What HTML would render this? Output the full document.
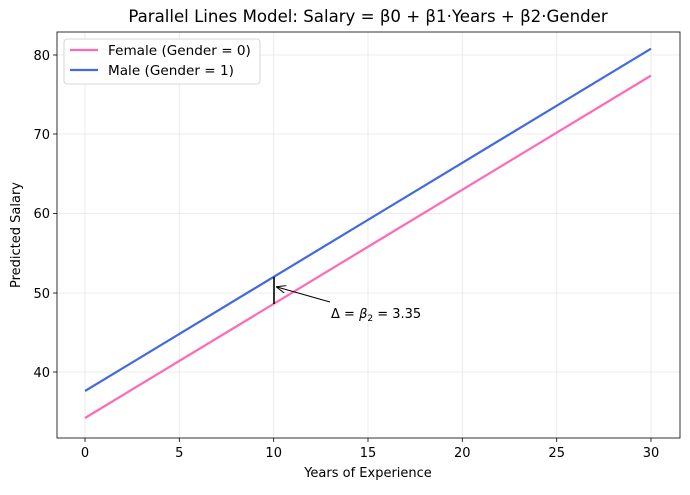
<!DOCTYPE html>
<html><head><meta charset="utf-8"><style>body{margin:0;background:#fff}</style></head><body>
<svg width="690" height="490" xmlns="http://www.w3.org/2000/svg" font-family="DejaVu Sans, Liberation Sans, sans-serif">
<defs><marker id="a" markerWidth="10" markerHeight="8" refX="9" refY="4" orient="auto" markerUnits="userSpaceOnUse"><path d="M0,0 L10,4 L0,8" fill="none" stroke="#000" stroke-width="1"/></marker></defs>
<rect width="690" height="490" fill="#fff"/>
<g stroke="#e6e6e6" stroke-width="0.8">
<line x1="85" y1="32" x2="85" y2="438"/><line x1="179.3" y1="32" x2="179.3" y2="438"/><line x1="273.7" y1="32" x2="273.7" y2="438"/><line x1="368" y1="32" x2="368" y2="438"/><line x1="462.3" y1="32" x2="462.3" y2="438"/><line x1="556.7" y1="32" x2="556.7" y2="438"/><line x1="651" y1="32" x2="651" y2="438"/>
<line x1="57" y1="372" x2="680" y2="372"/><line x1="57" y1="293" x2="680" y2="293"/><line x1="57" y1="213.5" x2="680" y2="213.5"/><line x1="57" y1="134" x2="680" y2="134"/><line x1="57" y1="55" x2="680" y2="55"/>
</g>
<line x1="85" y1="418" x2="651" y2="75.6" stroke="#ff69b4" stroke-width="2.2"/>
<line x1="85" y1="391" x2="651" y2="48.7" stroke="#4169e1" stroke-width="2.2"/>
<line x1="274" y1="304" x2="274" y2="277" stroke="#000" stroke-width="1.6"/>
<line x1="330" y1="302" x2="277" y2="287" stroke="#000" stroke-width="1" marker-end="url(#a)"/>
<text x="331" y="318" font-size="13">Δ = <tspan font-style="italic">β</tspan><tspan font-size="9" dy="3">2</tspan><tspan dy="-3"> = 3.35</tspan></text>
<rect x="57" y="32" width="623" height="406" fill="none" stroke="#000" stroke-width="0.8"/>
<g stroke="#000" stroke-width="0.8">
<line x1="85" y1="438" x2="85" y2="442"/><line x1="179.3" y1="438" x2="179.3" y2="442"/><line x1="273.7" y1="438" x2="273.7" y2="442"/><line x1="368" y1="438" x2="368" y2="442"/><line x1="462.3" y1="438" x2="462.3" y2="442"/><line x1="556.7" y1="438" x2="556.7" y2="442"/><line x1="651" y1="438" x2="651" y2="442"/>
<line x1="53" y1="372" x2="57" y2="372"/><line x1="53" y1="293" x2="57" y2="293"/><line x1="53" y1="213.5" x2="57" y2="213.5"/><line x1="53" y1="134" x2="57" y2="134"/><line x1="53" y1="55" x2="57" y2="55"/>
</g>
<g font-size="13" text-anchor="middle">
<text x="85" y="457">0</text><text x="179.3" y="457">5</text><text x="273.7" y="457">10</text><text x="368" y="457">15</text><text x="462.3" y="457">20</text><text x="556.7" y="457">25</text><text x="651" y="457">30</text>
</g>
<g font-size="13" text-anchor="end">
<text x="50" y="377">40</text><text x="50" y="298">50</text><text x="50" y="218">60</text><text x="50" y="139">70</text><text x="50" y="60">80</text>
</g>
<text x="368" y="477" font-size="13" text-anchor="middle">Years of Experience</text>
<text x="20" y="235" font-size="13" text-anchor="middle" transform="rotate(-90 20 235)">Predicted Salary</text>
<text x="368" y="22" font-size="16.6" text-anchor="middle">Parallel Lines Model: Salary = β0 + β1·Years + β2·Gender</text>
<rect x="64" y="39" width="196" height="45" rx="3" fill="#fff" stroke="#ccc" stroke-width="0.8"/>
<line x1="70" y1="50" x2="98" y2="50" stroke="#ff69b4" stroke-width="2.2"/>
<line x1="70" y1="70" x2="98" y2="70" stroke="#4169e1" stroke-width="2.2"/>
<text x="108" y="55" font-size="13.6">Female (Gender = 0)</text>
<text x="108" y="75" font-size="13.6">Male (Gender = 1)</text>
</svg>
</body></html>
